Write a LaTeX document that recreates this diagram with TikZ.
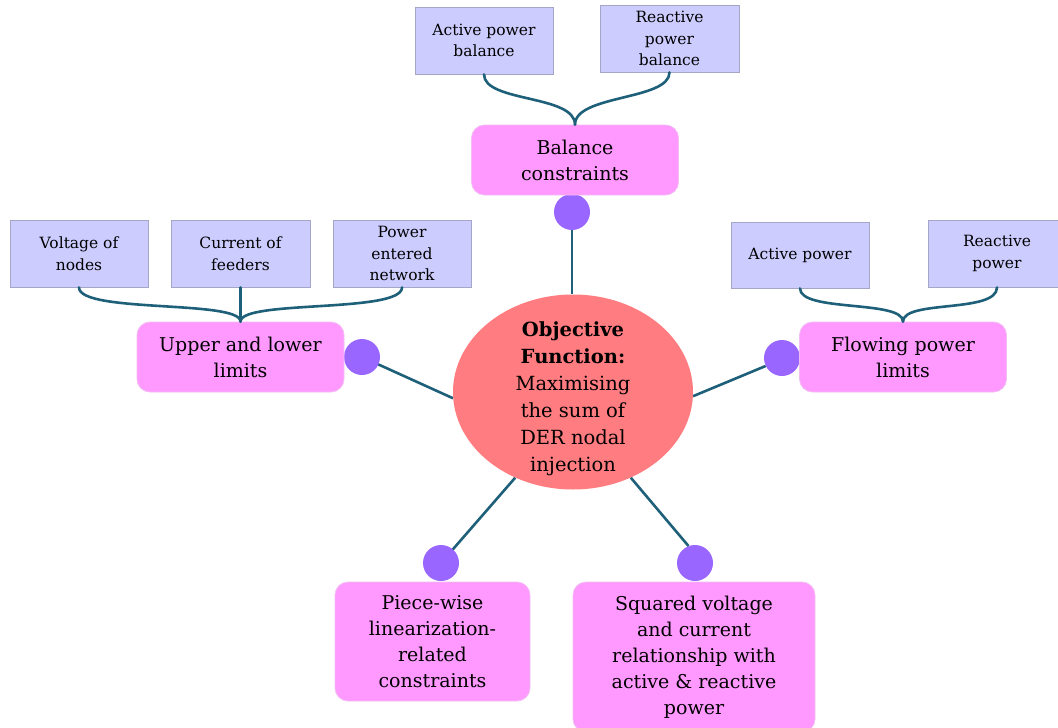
\documentclass[tikz,border=0pt]{standalone}
\usepackage{fontspec}
\setmainfont{DejaVu Serif}
\usetikzlibrary{shapes.geometric,backgrounds}
\definecolor{leaffill}{HTML}{CCCCFF}
\definecolor{leafline}{HTML}{A5A5C8}
\definecolor{topicfill}{HTML}{FF99FF}
\definecolor{topicline}{HTML}{F2BDF2}
\definecolor{dotfill}{HTML}{9966FF}
\definecolor{corefill}{HTML}{FF7C80}
\definecolor{linkc}{HTML}{1E6079}
\tikzset{
  leaf/.style={rectangle, fill=leaffill, draw=leafline, line width=0.8pt,
    minimum width=138pt, minimum height=67pt, inner sep=2pt, align=center,
    font=\fontsize{15.5}{21.5}\selectfont},
  topic/.style={rectangle, rounded corners=13pt, fill=topicfill, draw=topicline,
    line width=0.8pt, minimum width=207pt, minimum height=70pt, inner sep=2pt,
    align=center, font=\fontsize{19}{26}\selectfont},
  hub/.style={circle, fill=dotfill, minimum size=36pt, inner sep=0pt},
  core/.style={ellipse, fill=corefill, minimum width=240pt, minimum height=195pt,
    inner sep=0pt},
  coretext/.style={inner sep=0pt, align=center, font=\fontsize{19.5}{27}\selectfont},
  link/.style={draw=linkc, line width=2.6pt},
  brace/.style={draw=linkc, line width=2.6pt, line cap=round}
}
\begin{document}
\begin{tikzpicture}[x=1pt,y=-1pt]
\useasboundingbox (0,0) rectangle (1058,728);
\begin{scope}[on background layer]
\fill[white] (0,0) rectangle (1058,728);
\end{scope}

% central objective
\node[core] (core) at (573,392) {};
\node[coretext] (coretxt) at ([yshift=-7pt]core.center)
  {\textbf{Objective}\\\textbf{Function:}\\Maximising\\the sum of\\DER nodal\\injection};

% hubs around the centre
\node[hub] (dbal) at (572,212) {};
\node[hub] (dul) at (362,357) {};
\node[hub] (dfl) at (782,358) {};
\node[hub] (dpw) at (441,563) {};
\node[hub] (dsq) at (695,563) {};

% constraint groups
\node[topic] (bal) at (575,160) {Balance\\constraints};
\node[topic] (ul) at (240.5,357) {Upper and lower\\limits};
\node[topic] (fl) at (903,357) {Flowing power\\limits};
\node[topic, minimum width=195pt, minimum height=119pt] (pw) at (432.5,641.5)
  {Piece-wise\\linearization-\\related\\constraints};
\node[topic, minimum width=242pt, minimum height=150pt] (sq) at (694,657)
  {Squared voltage\\and current\\relationship with\\active \& reactive\\power};

% individual constraints
\node[leaf] (abal) at (484,40.5) {Active power\\balance};
\node[leaf, minimum width=139pt] (rbal) at (669.5,38.5) {Reactive\\power\\balance};
\node[leaf] (volt) at (79,253.5) {Voltage of\\nodes};
\node[leaf, minimum width=139pt] (curr) at (240.5,253.5) {Current of\\feeders};
\node[leaf] (pent) at (402,253.5) {Power\\entered\\network};
\node[leaf, minimum height=66pt] (act) at (800,255) {Active power};
\node[leaf] (rea) at (997,253.5) {Reactive\\power};

% spokes from the centre to the hubs
\begin{scope}[on background layer]
\draw[link] (dbal.center) -- (dbal.center |- core.north);
\draw[link] (core.183) -- (dul.center);
\draw[link] (core.-2) -- (dfl.206);
\draw[link] (core.236) -- (dpw.center);
\draw[link] (core.-56) -- (dsq.111);
\end{scope}

% braces joining the individual constraints to their groups
\draw[brace] (abal.south) .. controls +(0,28) and +(0,-30) .. (bal.north);
\draw[brace] (rbal.south) .. controls +(0,28) and +(0,-30) .. (bal.north);
\draw[brace] (volt.south) .. controls +(0,26) and +(0,-22) .. (ul.north);
\draw[brace] (curr.south) -- (ul.north);
\draw[brace] (pent.south) .. controls +(0,26) and +(0,-22) .. (ul.north);
\draw[brace] (act.south) .. controls +(0,24) and +(0,-22) .. (fl.north);
\draw[brace] (rea.south) .. controls +(0,26) and +(0,-22) .. (fl.north);
\end{tikzpicture}
\end{document}
